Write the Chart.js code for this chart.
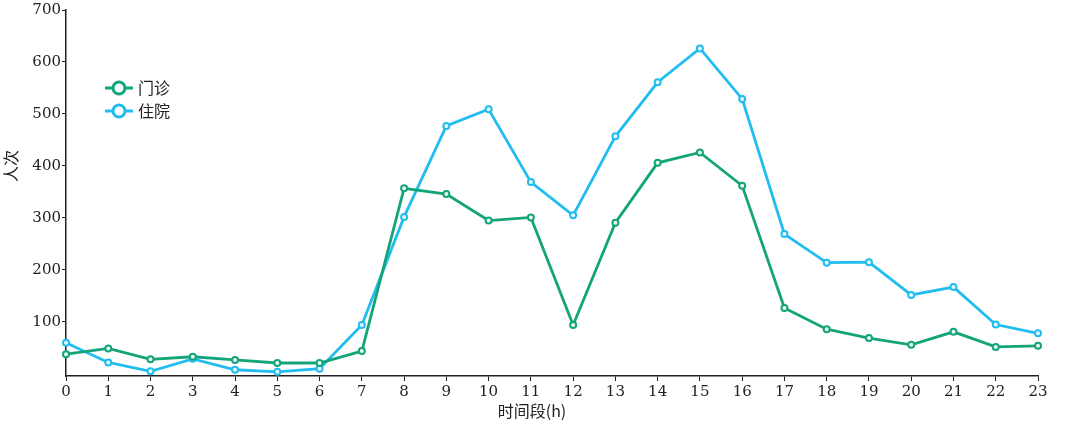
<!DOCTYPE html>
<html>
<head>
<meta charset="utf-8">
<script src="https://cdn.jsdelivr.net/npm/chart.js@4/dist/chart.umd.min.js"></script>
<style>
  html, body { margin: 0; padding: 0; background: #fff; }
  #box { width: 1080px; height: 425px; }
</style>
</head>
<body>
<div id="box"><canvas id="graphique"></canvas></div>
<script>
// heures de la journée
const hours = ['0','1','2','3','4','5','6','7','8','9','10','11','12','13','14','15','16','17','18','19','20','21','22','23']
const outpatient = [38,49,28,33,27,21,21,44,357,346,295,301,94,291,406,426,362,127,86,69,56,81,52,54]
const inpatient = [60,22,5,29,8,4,10,94,302,477,509,369,305,457,561,626,529,269,214,215,152,167,95,78]
const yTicks = [100,200,300,400,500,600,700]

const seriesNames = ['门诊','住院']
const xTitle = '时间段(h)'
const yTitle = '人次'

const GREEN = '#14a47a'
const BLUE = '#22bdf0'
const numFont = {family: "'DejaVu Serif', 'Noto Sans CJK SC'", size: 15}
const cjkFont = "16px 'Noto Sans CJK SC'"

// légende dessinée à l'intérieur du graphique
const innerLegend = {
    id: 'innerLegend',
    afterDraw(chart){
        const ctx = chart.ctx
        ctx.save()
        chart.data.datasets.forEach((ds, i) => {
            const y = 88 + i * 23
            const x = 105
            ctx.strokeStyle = ds.borderColor
            ctx.lineWidth = 3
            ctx.beginPath()
            ctx.moveTo(x, y)
            ctx.lineTo(x + 28, y)
            ctx.stroke()
            ctx.fillStyle = '#fff'
            ctx.beginPath()
            ctx.arc(x + 14, y, 6, 0, Math.PI * 2)
            ctx.fill()
            ctx.stroke()
            ctx.fillStyle = '#222'
            ctx.font = cjkFont
            ctx.textBaseline = 'middle'
            ctx.fillText(ds.label, x + 33, y)
        })
        ctx.restore()
    }
}

// titres des axes
const axisTitles = {
    id: 'axisTitles',
    afterDraw(chart){
        const ctx = chart.ctx
        ctx.save()
        ctx.fillStyle = '#222'
        ctx.font = cjkFont
        ctx.textAlign = 'center'
        ctx.textBaseline = 'middle'
        ctx.fillText(xTitle, 532, 411)
        ctx.translate(11, 166)
        ctx.rotate(-Math.PI / 2)
        ctx.fillText(yTitle, 0, 0)
        ctx.restore()
    }
}

const config = {
    type: 'line',
    data: {
        labels: hours,
        datasets: [{
            label: seriesNames[0],
            data: outpatient,
            borderColor: GREEN,
            backgroundColor: '#e8f6f0',
            borderWidth: 2.8,
            pointRadius: 3,
            pointBorderWidth: 2,
            tension: 0
        },{
            label: seriesNames[1],
            data: inpatient,
            borderColor: BLUE,
            backgroundColor: '#eaf8fe',
            borderWidth: 2.8,
            pointRadius: 3,
            pointBorderWidth: 2,
            tension: 0
        }]
    },
    options: {
        responsive: true,
        maintainAspectRatio: false,
        animation: false,
        layout: {padding: {top: 10, right: 42, left: 0, bottom: 0}},
        plugins: {
            legend: {display: false},
            tooltip: {enabled: false}
        },
        scales: {
            x: {
                offset: false,
                grid: {drawOnChartArea: false, drawTicks: true, tickLength: 5, color: '#222'},
                border: {color: '#222', width: 1.5},
                ticks: {color: '#222', font: numFont, maxRotation: 0, autoSkip: false, padding: 2},
                afterFit(scale){ scale.height = 49 }
            },
            y: {
                min: -4,
                max: 700,
                grid: {drawOnChartArea: false, drawTicks: true, tickLength: 4, color: '#222'},
                border: {color: '#222', width: 1.5},
                ticks: {color: '#222', font: numFont, padding: 1},
                afterBuildTicks(scale){ scale.ticks = yTicks.map(v => ({value: v})) },
                afterFit(scale){ scale.width = 66 }
            }
        }
    },
    plugins: [innerLegend, axisTitles]
}

const chart = new Chart(document.getElementById('graphique'), config)
</script>
</body>
</html>
